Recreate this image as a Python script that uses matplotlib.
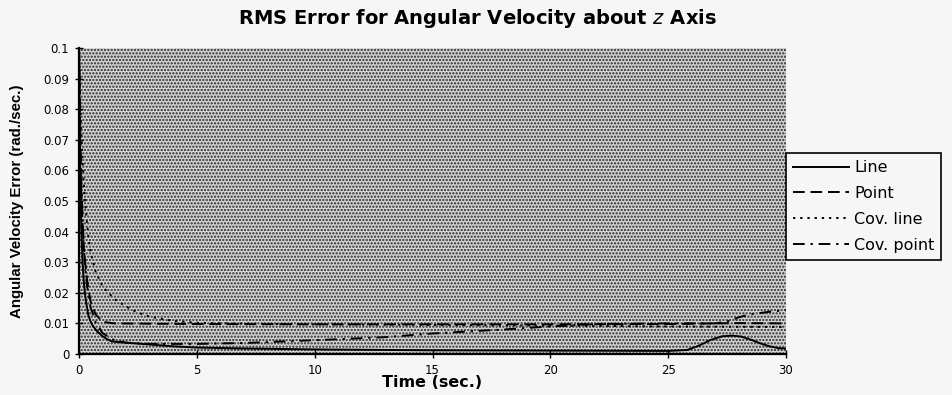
import matplotlib
matplotlib.use("Agg")
import matplotlib.pyplot as plt
from matplotlib.patches import Rectangle

# ---------------- data ----------------
t_line = [0, 0.03, 0.06, 0.1, 0.15, 0.2, 0.25, 0.3, 0.4, 0.5, 0.6, 0.8, 1.0, 1.2, 1.4, 1.7, 2, 3, 4, 5, 7, 10,
          15, 20, 25, 25.8, 26.3, 26.8, 27.3, 27.7, 28.1, 28.5, 28.9, 29.3, 29.7, 30]
y_line = [0.1, 0.075, 0.055, 0.04, 0.03, 0.024, 0.02, 0.017, 0.0125, 0.0105, 0.009, 0.0072, 0.0058, 0.0048,
          0.0041, 0.0039, 0.0037, 0.0031, 0.0025, 0.0021, 0.0018, 0.0015, 0.0012, 0.0011, 0.001, 0.0013,
          0.0027, 0.0046, 0.0058, 0.006, 0.0057, 0.0047, 0.0035, 0.0025, 0.0019, 0.0018]

t_point = [0, 0.05, 0.1, 0.2, 0.3, 0.4, 0.5, 0.7, 1.0, 1.5, 3, 5, 10, 15, 20, 25, 28, 30]
y_point = [0.1, 0.07, 0.052, 0.035, 0.027, 0.021, 0.017, 0.013, 0.0105, 0.0100, 0.0099, 0.0098, 0.0097,
           0.0097, 0.0097, 0.0098, 0.0101, 0.0100]

t_covline = [0, 0.05, 0.1, 0.2, 0.3, 0.4, 0.5, 0.7, 1.0, 1.5, 2.0, 2.5, 3.0, 4.0, 5.0, 7, 10, 15, 20, 25, 30]
y_covline = [0.1, 0.085, 0.072, 0.056, 0.046, 0.038, 0.033, 0.027, 0.022, 0.018, 0.0155, 0.0135, 0.0122,
             0.0108, 0.0102, 0.0099, 0.0097, 0.0095, 0.0093, 0.009, 0.0088]

t_covpoint = [0, 0.05, 0.1, 0.2, 0.3, 0.4, 0.5, 0.7, 1.0, 1.5, 2, 3, 5, 7, 10, 13, 15, 18, 20, 22, 25,
              27, 27.5, 28, 28.5, 29, 29.5, 30]
y_covpoint = [0.1, 0.075, 0.055, 0.035, 0.025, 0.019, 0.015, 0.0105, 0.0068, 0.0045, 0.0037, 0.0033,
              0.0033, 0.0036, 0.0045, 0.0055, 0.0067, 0.008, 0.009, 0.0098, 0.01, 0.01, 0.0106, 0.012,
              0.013, 0.0135, 0.014, 0.0143]

series_labels = ["Line", "Point", "Cov. line", "Cov. point"]
x_ticks = [0, 5, 10, 15, 20, 25, 30]
y_ticks = [0, 0.01, 0.02, 0.03, 0.04, 0.05, 0.06, 0.07, 0.08, 0.09, 0.1]
y_ticklabels = ["0", "0.01", "0.02", "0.03", "0.04", "0.05", "0.06", "0.07", "0.08", "0.09", "0.1"]

# ---------------- figure ----------------
plt.rcParams['hatch.linewidth'] = 1.1
bg = '#f6f6f6'
fig = plt.figure(figsize=(9.52, 3.95), dpi=100, facecolor=bg)
ax = fig.add_axes([79 / 952, 1 - 354 / 395, (786 - 79) / 952, (354 - 48) / 395])
ax.set_facecolor('#d4d4d4')
stipple = Rectangle((0, 0), 1, 1, transform=ax.transAxes, facecolor='#d4d4d4',
                    edgecolor='#262626', lw=0, hatch='.....', zorder=0)
ax.add_patch(stipple)

lw = 1.4
ax.plot(t_line, y_line, color='black', lw=lw, ls='-', label=series_labels[0], zorder=3)
ax.plot(t_point, y_point, color='black', lw=lw, ls=(0, (6, 3)), label=series_labels[1], zorder=3)
ax.plot(t_covline, y_covline, color='black', lw=lw, ls=(0, (1.2, 2.5)), label=series_labels[2], zorder=3)
ax.plot(t_covpoint, y_covpoint, color='black', lw=lw, ls=(0, (6, 3, 1.2, 3)), label=series_labels[3],
        zorder=3)

ax.set_xlim(0, 30)
ax.set_ylim(0, 0.1)
ax.set_xticks(x_ticks)
ax.set_xticklabels([str(v) for v in x_ticks])
ax.set_yticks(y_ticks)
ax.set_yticklabels(y_ticklabels)

for s in ['top', 'right']:
    ax.spines[s].set_visible(False)
for s in ['left', 'bottom']:
    ax.spines[s].set_linewidth(1.6)
    ax.spines[s].set_color('black')

ax.tick_params(axis='both', direction='inout', length=6, width=1.0, labelsize=8.5, pad=4,
               colors='black')
for lab in ax.get_xticklabels() + ax.get_yticklabels():
    lab.set_family('DejaVu Sans')

ax.set_xlabel("Time (sec.)", fontsize=11.5, fontweight='bold', family='DejaVu Sans', labelpad=-1)
ax.set_ylabel("Angular Velocity Error (rad./sec.)", fontsize=10.8, fontweight='bold',
              family=['Liberation Sans Narrow', 'Liberation Sans'], labelpad=14)

fig.text(477 / 952, 1 - 18 / 395, "RMS Error for Angular Velocity about $\\mathit{z}$ Axis",
         ha='center', va='center', fontsize=14, fontweight='bold', family='DejaVu Sans')

leg = ax.legend(loc='upper left', bbox_to_anchor=(1.0, (354 - 153) / 306),
                frameon=True, fancybox=False, edgecolor='black', facecolor=bg, framealpha=1,
                handlelength=3.5, handletextpad=0.3, labelspacing=0.68, borderpad=0.45,
                borderaxespad=0.0, prop={'family': 'DejaVu Sans', 'size': 11.5})
leg.get_frame().set_linewidth(1.2)

fig.savefig("out.png", dpi=100, facecolor=bg)
